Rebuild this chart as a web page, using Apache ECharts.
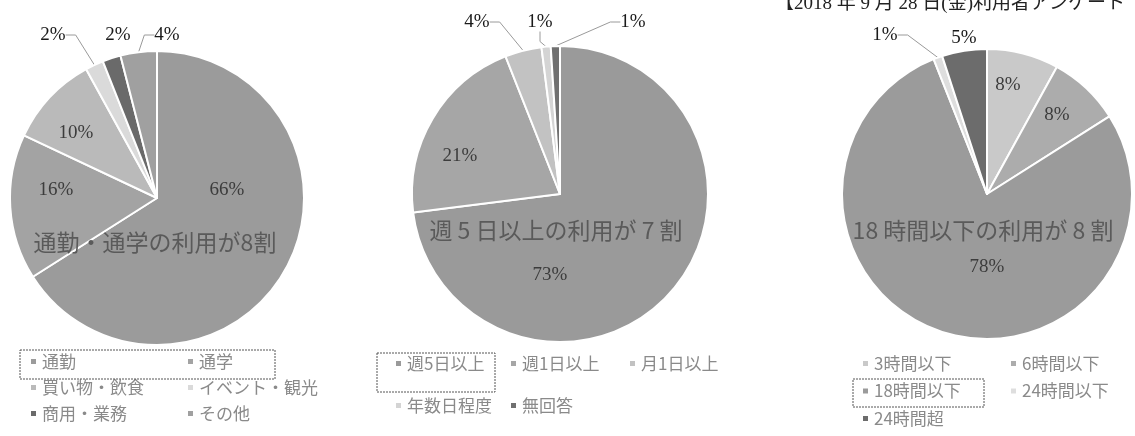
<!DOCTYPE html>
<html>
<head>
<meta charset="utf-8">
<script src="https://cdn.jsdelivr.net/npm/echarts@6/dist/echarts.min.js"></script>
<style>
  html, body { margin: 0; padding: 0; background: #fff; }
  #chart { width: 1135px; height: 436px; }
</style>
</head>
<body>
<div id="chart"></div>
<script>
// 利用目的
const purposeCats = ['通勤', '通学', '買い物・飲食', 'イベント・観光', '商用・業務', 'その他'];
const purposeVals = [66, 16, 10, 2, 2, 4];
// 利用頻度
const freqCats = ['週5日以上', '週1日以上', '月1日以上', '年数日程度', '無回答'];
const freqVals = [73, 21, 4, 1, 1];
// 利用時間
const hourCats = ['3時間以下', '6時間以下', '18時間以下', '24時間以下', '24時間超'];
const hourVals = [8, 8, 78, 1, 5];

const titleText = '【2018 年 9 月 28 日(金)利用者アンケート';
const noteTexts = ['通勤・通学の利用が8割', '週 5 日以上の利用が 7 割', '18 時間以下の利用が 8 割'];

const SERIF = '"Liberation Serif", "DejaVu Serif", "Noto Sans CJK JP", serif';
const SANS = '"Noto Sans CJK JP", "Noto Sans", sans-serif';

const centers = [[157, 198], [560, 194], [987, 194]];
const radii = [147, 148, 145];
const colors = [
  ['#9b9b9b', '#a3a3a3', '#bababa', '#dadada', '#6a6a6a', '#a0a0a0'],
  ['#9a9a9a', '#a6a6a6', '#c2c2c2', '#d4d4d4', '#707070'],
  ['#c9c9c9', '#acacac', '#9b9b9b', '#dedede', '#6c6c6c']
];
// label centre offsets from the pie centre
const labelOffsets = [
  [[70, -8], [-101, -8], [-81, -65], [-104, -163], [-39, -163], [10, -163]],
  [[-10, 81], [-100, -38], [-83, -172], [-20, -172], [73, -172]],
  [[21, -109], [70, -79], [0, 73], [-102, -159], [-23, -156]]
];
const leaderShown = [
  [false, false, false, true, false, true],
  [false, false, true, true, true],
  [false, false, false, true, false]
];
const bigLabel = [
  [true, true, true, false, false, false],
  [true, true, false, false, false],
  [true, true, true, false, false]
];

function makeSeries(si, cats, vals) {
  return {
    type: 'pie',
    center: centers[si],
    radius: radii[si],
    startAngle: 90,
    clockwise: true,
    animation: false,
    silent: true,
    avoidLabelOverlap: false,
    itemStyle: { borderColor: '#fff', borderWidth: 2 },
    label: {
      show: true,
      position: 'outside',
      formatter: '{c}%',
      fontFamily: SERIF,
      fontSize: 19,
      color: '#222'
    },
    labelLine: {
      length: 10,
      length2: 10,
      lineStyle: { color: '#9a9a9a', width: 1 }
    },
    labelLayout: function (p) {
      const off = labelOffsets[si][p.dataIndex];
      return {
        x: centers[si][0] + off[0],
        y: centers[si][1] + off[1],
        align: 'center',
        verticalAlign: 'middle'
      };
    },
    data: cats.map(function (name, i) {
      return {
        name: name,
        value: vals[i],
        itemStyle: { color: colors[si][i] },
        label: { color: bigLabel[si][i] ? '#3c3c3c' : '#1a1a1a' },
        labelLine: { show: leaderShown[si][i] }
      };
    })
  };
}

// one legend per column so the columns line up like the original
function legendCol(names, left, top, gap) {
  return {
    data: names,
    left: left,
    top: top,
    orient: 'vertical',
    padding: 0,
    itemGap: gap,
    itemWidth: 7,
    itemHeight: 7,
    icon: 'rect',
    selectedMode: false,
    textStyle: { fontFamily: SANS, fontSize: 17, color: '#8a8a8a' }
  };
}

function note(i, x, y) {
  return {
    type: 'text', x: x, y: y, z: 100,
    style: { text: noteTexts[i], font: '23px ' + SANS, fill: '#5a5a5a', align: 'center', verticalAlign: 'middle' }
  };
}

function box(x, y, w, h) {
  return {
    type: 'rect', z: 100, shape: { x: x, y: y, width: w, height: h },
    style: { fill: 'none', stroke: '#555', lineWidth: 1, lineDash: [2, 1] }
  };
}

const chart = echarts.init(document.getElementById('chart'), null, { renderer: 'canvas' });

const option = {
  backgroundColor: '#fff',
  animation: false,
  legend: [
    legendCol([purposeCats[0], purposeCats[2], purposeCats[4]], 29, 353, 9),
    legendCol([purposeCats[1], purposeCats[3], purposeCats[5]], 186, 353, 9),
    legendCol([freqCats[0], freqCats[3]], 394, 355, 25),
    legendCol([freqCats[1], freqCats[4]], 509, 355, 25),
    legendCol([freqCats[2]], 628, 355, 25),
    legendCol([hourCats[0], hourCats[2], hourCats[4]], 861, 355, 10.5),
    legendCol([hourCats[1], hourCats[3]], 1009, 355, 10.5)
  ],
  graphic: [
    {
      type: 'text', right: 10, top: -5, z: 100,
      style: { text: titleText, font: '19px ' + SERIF, fill: '#222' }
    },
    note(0, centers[0][0] - 2, 242),
    note(1, centers[1][0] - 4, 230),
    note(2, centers[2][0] - 4, 230),
    box(20, 350, 255, 29),
    box(377, 353, 118, 39),
    box(853, 379, 131, 28)
  ],
  series: [
    makeSeries(0, purposeCats, purposeVals),
    makeSeries(1, freqCats, freqVals),
    makeSeries(2, hourCats, hourVals)
  ]
};

chart.setOption(option);
window.addEventListener('resize', function () { chart.resize(); });
</script>
</body>
</html>
